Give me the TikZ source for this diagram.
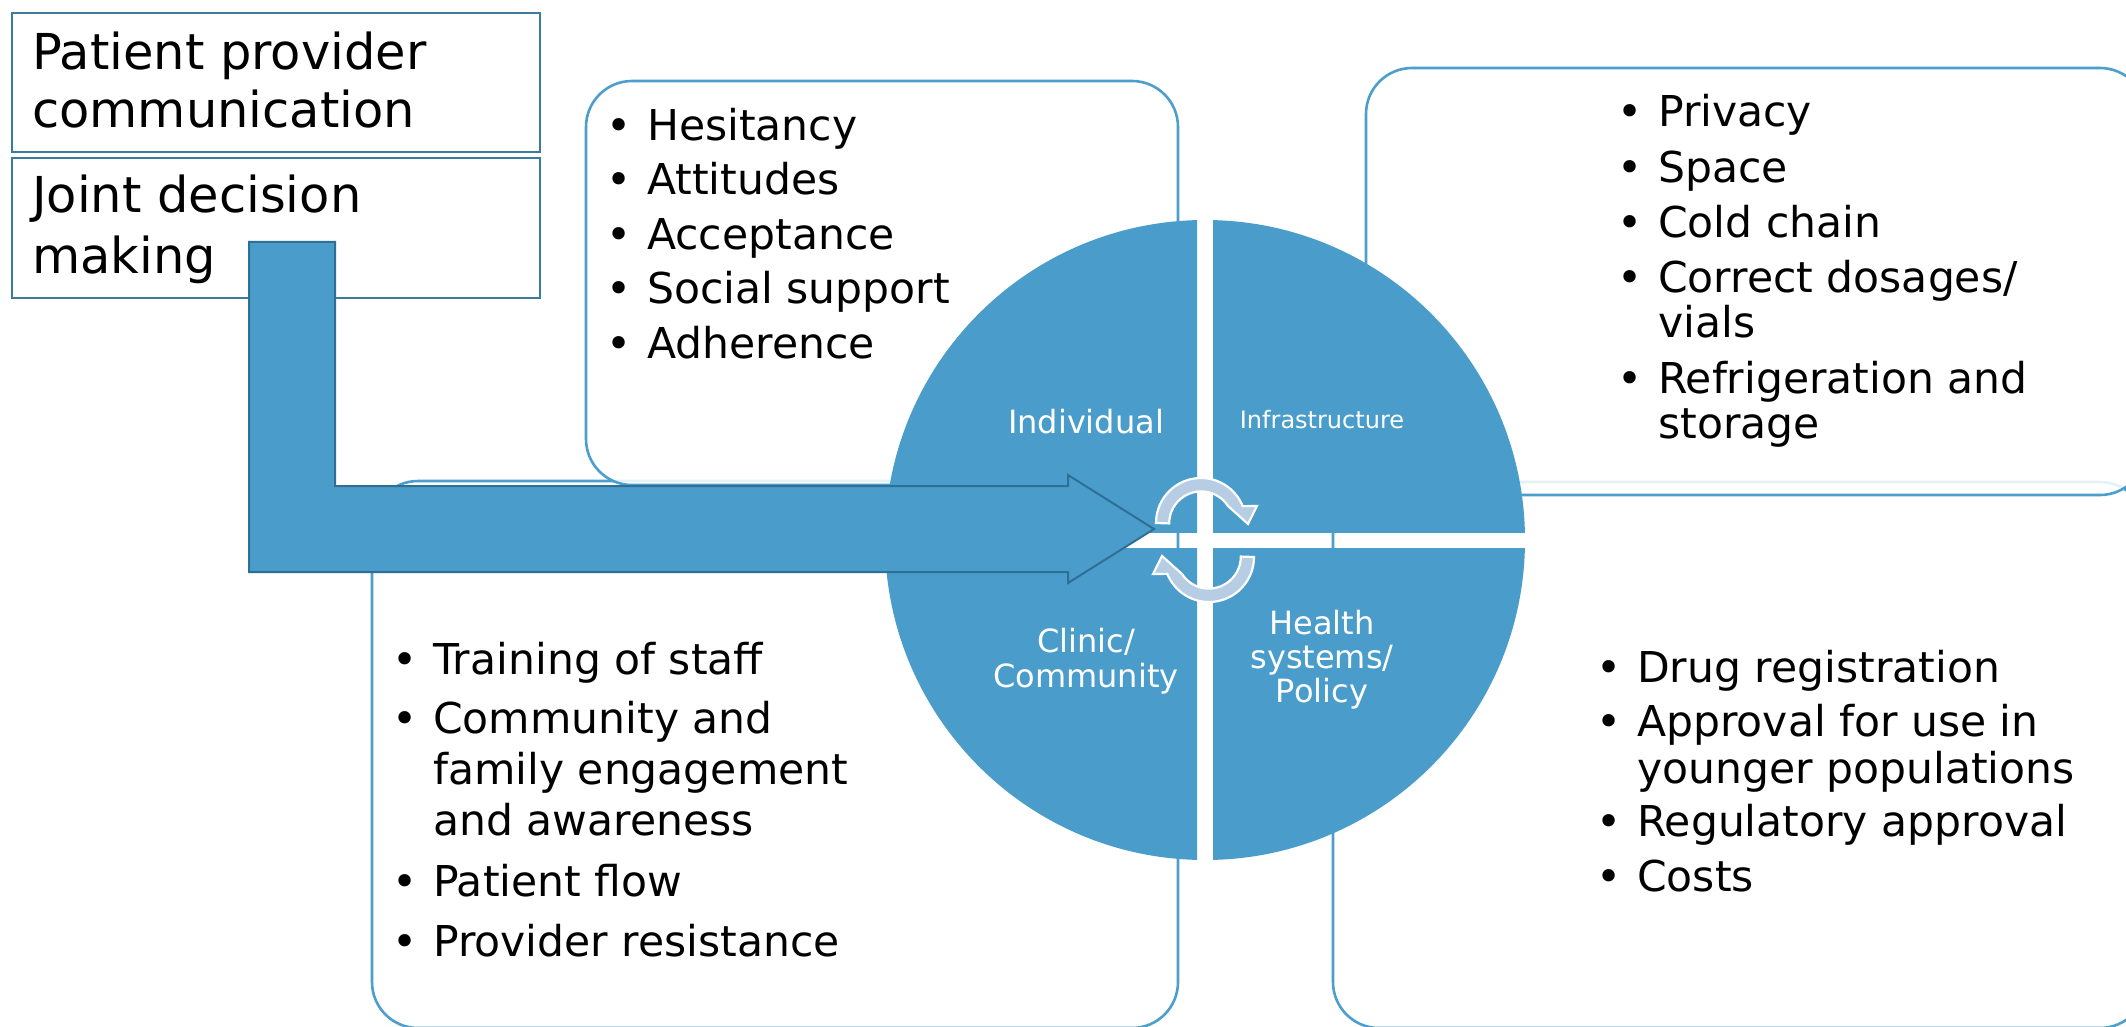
\documentclass[tikz,border=0pt]{standalone}
\usepackage{fontspec}
\setmainfont{DejaVu Sans}
\definecolor{wheelblue}{RGB}{74,157,202}
\definecolor{boxedge}{RGB}{76,158,204}
\definecolor{arrowedge}{RGB}{46,111,150}
\definecolor{tagedge}{RGB}{62,122,158}
\definecolor{cyclefill}{RGB}{182,205,228}
\newcommand\listfont{\fontsize{42.5}{50}\selectfont}
\newcommand\tagfont{\fontsize{49.5}{58}\selectfont}
\newcommand\wheelfont{\fontsize{32}{38}\selectfont}
\newcommand\smallwheelfont{\fontsize{24}{29}\selectfont}
% one bullet line and one continuation line of a list
\newcommand\listitem[4]{%
  \node[bulletmark] (#1b) at (#2-41,#3) {•};
  \node[listline] (#1) at (#2,#3) {#4};}
\newcommand\listcont[4]{\node[listline] (#1) at (#2,#3) {#4};}
\begin{document}
\begin{tikzpicture}[x=1pt,y=-1pt,
  listline/.style={anchor=base west,inner sep=0pt,font=\listfont},
  bulletmark/.style={anchor=base west,inner sep=0pt,font=\listfont},
  panel/.style={draw=boxedge,line width=2.6pt,fill=white,fill opacity=0.86,draw opacity=1,rounded corners=46pt},
  tagbox/.style={draw=tagedge,line width=2pt,fill=white},
  tagline/.style={anchor=base west,inner sep=0pt,font=\tagfont},
  wheellabel/.style={anchor=base,inner sep=0pt,text=white,font=\wheelfont},
  cyclearrow/.style={fill=cyclefill,draw=white,line width=2.2pt,line join=miter},
  bigarrow/.style={fill=wheelblue,draw=arrowedge,line width=2pt,line join=miter}]
\useasboundingbox (0,0) rectangle (2126,1027);
\clip (0,0) rectangle (2126,1027);
\fill[white] (0,0) rectangle (2126,1027);

% four framed panels around the wheel
\draw[panel] (372,481) rectangle (1178,1028);
\draw[panel] (1333,482) rectangle (2146,1028);
\draw[panel] (586,81) rectangle (1178,485);
\draw[panel] (1366,68) rectangle (2146,495);

% the wheel, split into four quarters
\begin{scope}
  \clip (0,0) rectangle (1197,532);
  \fill[wheelblue] (1205,540) circle[radius=320];
\end{scope}
\begin{scope}
  \clip (1213,0) rectangle (2126,532);
  \fill[wheelblue] (1205,540) circle[radius=320];
\end{scope}
\begin{scope}
  \clip (0,548) rectangle (1197,1027);
  \fill[wheelblue] (1205,540) circle[radius=320];
\end{scope}
\begin{scope}
  \clip (1213,548) rectangle (2126,1027);
  \fill[wheelblue] (1205,540) circle[radius=320];
\end{scope}

% quarter labels
\node[wheellabel] (individual) at (1086,433) {Individual};
\node[wheellabel,font=\smallwheelfont] (infra) at (1322,428) {Infrastructure};
\node[wheellabel] (clinic1) at (1086,652) {Clinic/};
\node[wheellabel] (clinic2) at (1086,687) {Community};
\node[wheellabel] (health1) at (1322,634) {Health};
\node[wheellabel] (health2) at (1322,668) {systems/};
\node[wheellabel] (health3) at (1322,702) {Policy};

% circular arrows in the hub
\draw[cyclearrow] (1156,523) arc[start angle=-180,end angle=-22,radius=45]
  -- (1257,506) -- (1248,524) -- (1228,506)
  arc[start angle=-33,end angle=-180,radius=32] -- cycle;
\begin{scope}[rotate around={180:(1205,540)}]
\draw[cyclearrow] (1156,523) arc[start angle=-180,end angle=-22,radius=45]
  -- (1257,506) -- (1248,524) -- (1228,506)
  arc[start angle=-33,end angle=-180,radius=32] -- cycle;
\end{scope}

% labelled boxes at the top left
\node[tagbox,minimum width=528pt,minimum height=139pt,anchor=north west,inner sep=0pt] (comm) at (11,12) {};
\node[tagbox,minimum width=528pt,minimum height=140pt,anchor=north west,inner sep=0pt] (joint) at (11,157) {};
\node[tagline] (comm1) at (32,70) {Patient provider};
\node[tagline] (comm2) at (32,128) {communication};
\node[tagline] (joint1) at (32,213) {Joint decision};
\node[tagline] (joint2) at (32,273) {making};

% bent arrow from the joint decision box into the hub
\coordinate (bendtop) at (249,242);
\coordinate (tip) at (1154,529);
\draw[bigarrow] (bendtop) -- (335,242) -- (335,486) -- (1068,486) -- (1068,475)
  -- (tip) -- (1068,583) -- (1068,572) -- (249,572) -- cycle;

% lists
\listitem{hes}{647}{141}{Hesitancy}
\listitem{att}{647}{195}{Attitudes}
\listitem{acc}{647}{250}{Acceptance}
\listitem{soc}{647}{303}{Social support}
\listitem{adh}{647}{358}{Adherence}

\listitem{pri}{1658}{127}{Privacy}
\listitem{spa}{1658}{183}{Space}
\listitem{col}{1658}{237}{Cold chain}
\listitem{cor}{1658}{292}{Correct dosages/}
\listcont{via}{1658}{337}{vials}
\listitem{ref}{1658}{393}{Refrigeration and}
\listcont{sto}{1658}{438}{storage}

\listitem{tra}{433}{674}{Training of staff}
\listitem{cmy}{433}{733}{Community and}
\listcont{fam}{433}{784}{family engagement}
\listcont{awa}{433}{835}{and awareness}
\listitem{flo}{433}{896}{Patient flow}
\listitem{res}{433}{956}{Provider resistance}

\listitem{dru}{1637}{682}{Drug registration}
\listitem{app}{1637}{736}{Approval for use in}
\listcont{you}{1637}{783}{younger populations}
\listitem{reg}{1637}{836}{Regulatory approval}
\listitem{cos}{1637}{891}{Costs}
\end{tikzpicture}
\end{document}
